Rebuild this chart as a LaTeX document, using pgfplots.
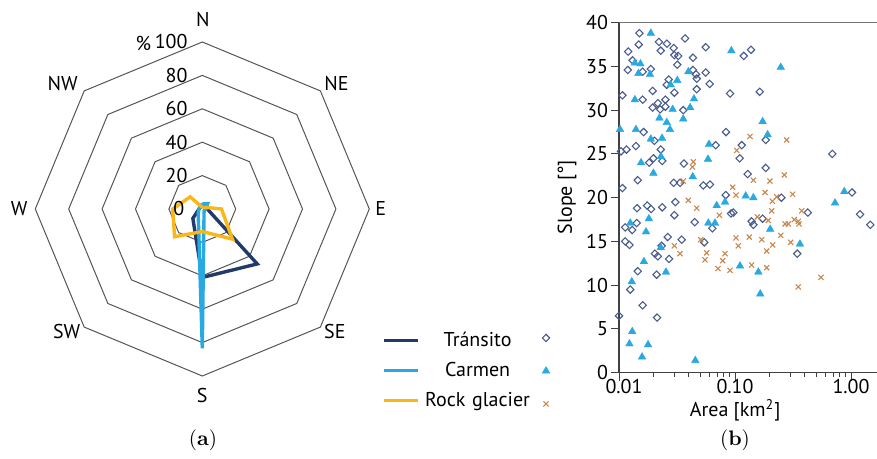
\documentclass[border=0pt]{standalone}
\usepackage{fontspec}
\setsansfont{PT Sans}
\usepackage{pgfplots}
\pgfplotsset{compat=1.18}
\definecolor{tnavy}{HTML}{1F3A6B}
\definecolor{cblue}{HTML}{29A9E1}
\definecolor{ryell}{HTML}{FBB617}
\definecolor{dmark}{HTML}{4A5C8C}
\definecolor{xmark}{HTML}{C9874E}
\definecolor{ringc}{HTML}{555555}

\pgfplotstableread{
x y
0.0150 38.8
0.0120 36.7
0.0148 37.5
0.0131 35.7
0.0119 34.6
0.0221 37.8
0.0229 36.8
0.0259 37.6
0.0296 37.1
0.0300 36.3
0.0324 36.2
0.0318 35.2
0.0371 38.2
0.0188 34.7
0.0160 34.4
0.0434 36.0
0.0434 34.6
0.0461 34.1
0.0468 33.6
0.0559 37.2
0.0559 34.3
0.0605 33.0
0.0468 32.4
0.0268 33.5
0.0258 32.9
0.0300 32.0
0.0195 32.2
0.0107 31.7
0.0160 31.2
0.0251 31.2
0.0216 30.8
0.0195 30.3
0.0226 30.1
0.0251 30.4
0.0358 30.0
0.0163 27.5
0.0202 26.5
0.0140 25.9
0.0116 25.5
0.0104 25.3
0.0229 25.5
0.0236 24.2
0.0198 24.5
0.0182 24.0
0.0363 23.9
0.0145 22.0
0.0107 21.1
0.0296 21.7
0.0336 21.7
0.0533 21.4
0.0608 21.5
0.1189 36.2
0.1374 36.9
0.0906 31.9
0.1633 32.1
0.0836 27.5
0.0682 26.0
0.1143 26.0
0.1097 24.5
0.184 26.6
0.69 25.0
0.184 23.4
0.1286 22.7
0.0832 20.3
0.251 20.0
1.02 20.6
0.0306 19.5
0.0143 18.8
0.0175 19.1
0.0189 18.7
0.0236 18.9
0.0300 18.0
0.0449 17.2
0.0113 16.6
0.0142 17.1
0.0130 16.3
0.0113 15.0
0.0123 14.6
0.0263 15.5
0.0347 15.2
0.0233 14.5
0.0204 13.6
0.0216 13.3
0.0270 13.0
0.0543 14.9
0.0637 16.5
0.0145 11.6
0.0211 11.2
0.0125 9.5
0.0160 7.7
0.0100 6.5
0.0213 6.3
0.0925 18.2
0.0967 18.3
0.424 18.3
0.173 17.6
0.139 17.3
0.144 16.9
0.344 13.6
1.197 18.1
1.466 16.9
}\transito

\pgfplotstableread{
x y
0.0188 38.8
0.0137 35.4
0.0153 35.3
0.0147 34.2
0.0185 34.1
0.0396 34.4
0.0318 33.4
0.0279 32.9
0.0137 31.2
0.0443 31.3
0.0223 29.1
0.0290 30.1
0.0410 30.3
0.0358 29.0
0.0258 28.6
0.0275 27.8
0.0102 27.8
0.0140 27.8
0.0235 26.8
0.0188 26.7
0.0597 26.1
0.0155 24.0
0.0230 24.7
0.0585 24.4
0.0198 22.8
0.0432 22.4
0.093 36.8
0.248 34.9
0.173 28.7
0.191 27.2
0.875 20.7
0.1236 20.2
0.144 20.0
0.0125 17.1
0.0181 17.6
0.0171 16.1
0.0229 14.3
0.0164 12.7
0.0254 11.5
0.0129 10.4
0.0130 4.7
0.0123 3.3
0.0178 3.2
0.0158 1.8
0.0455 1.4
0.0695 19.1
0.0589 17.1
0.0672 17.1
0.082 19.5
0.728 19.4
0.201 16.4
0.363 14.7
0.1104 12.2
0.159 11.5
0.165 9.0
1.70 12.5
}\carmen

\pgfplotstableread{
x y
0.0437 24.1
0.0429 23.5
0.0358 21.9
0.1346 27.0
0.1035 25.4
0.279 26.6
0.144 22.0
0.200 21.9
0.266 22.6
0.0955 21.2
0.1815 20.6
0.314 20.4
0.102 20.3
0.2286 20.1
0.0396 19.7
0.0468 18.8
0.030 14.5
0.0336 13.6
0.0506 15.2
0.057 13.7
0.0551 12.9
0.0713 11.9
0.0783 12.8
0.082 13.6
0.0906 11.7
0.0733 18.0
0.21 19.6
0.1557 17.8
0.207 18.5
0.1937 17.4
0.27 17.0
0.288 17.0
0.324 17.5
0.351 17.3
0.376 18.5
0.356 17.0
0.102 15.4
0.1067 14.5
0.1328 15.5
0.17 15.2
0.2113 14.6
0.1876 13.9
0.248 15.7
0.302 14.9
0.139 12.3
0.1876 12.0
0.551 10.9
0.351 9.8
}\rockglacier

\begin{document}
\begin{tikzpicture}[font=\sffamily\fontsize{10}{12}\selectfont]
\path[use as bounding box] (0,0) rectangle (438.5pt,229.5pt);

% ---------------- (a) radar chart ----------------
\begin{axis}[
  at={(101.15pt,125pt)}, anchor=center,
  scale only axis, width=167pt, height=167pt,
  xmin=-100, xmax=100, ymin=-100, ymax=100,
  hide axis, clip=false,
  legend cell align=center,
  legend style={at={(1.037,0.016)}, anchor=west, draw=none, fill=none,
    inner sep=0pt, row sep=0pt,
    nodes={inner sep=0pt, minimum height=15pt, text width=58pt, align=center,
      xshift=-4pt, font=\sffamily\fontsize{10}{12}\selectfont}},
]
\pgfplotsinvokeforeach{20,40,60,80,100}{
  \addplot[ringc, line width=0.5pt, forget plot, data cs=polar]
    coordinates {(90,#1)(45,#1)(0,#1)(-45,#1)(-90,#1)(-135,#1)(180,#1)(135,#1)(90,#1)(45,#1)};
}
\addplot[tnavy, line width=1.7pt, data cs=polar]
  coordinates {(90,2)(45,2)(0,3)(-45,46.5)(-90,41)(-135,8)(180,2)(135,1.5)(90,2)};
\addlegendentry{Tránsito}
\addplot[cblue, line width=1.7pt, data cs=polar]
  coordinates {(90,3)(45,4.5)(0,2)(-45,1.5)(-90,83.5)(-135,3.5)(180,2)(135,2)(90,3)};
\addlegendentry{Carmen}
\addplot[ryell, line width=1.7pt, data cs=polar]
  coordinates {(90,1)(45,1.5)(0,11.5)(-45,25.5)(-90,13.5)(-135,23.5)(180,17.7)(135,10.3)(90,1)};
\addlegendentry{Rock glacier}

\node at (axis cs:0.4,113.2) {N};
\node at (axis cs:80.4,74.9) {NE};
\node at (axis cs:106.9,0) {E};
\node at (axis cs:79.4,-73.1) {SE};
\node at (axis cs:0,-111.4) {S};
\node at (axis cs:-81.2,-73.1) {SW};
\node at (axis cs:-109.6,0.4) {W};
\node at (axis cs:-83.6,74.9) {NW};
\node[anchor=east, inner sep=0pt] at (axis cs:-10.5,0) {0};
\node[anchor=east, inner sep=0pt] at (axis cs:-8.6,20) {20};
\node[anchor=east, inner sep=0pt] at (axis cs:-8.6,40) {40};
\node[anchor=east, inner sep=0pt] at (axis cs:-8.6,60) {60};
\node[anchor=east, inner sep=0pt] at (axis cs:-8.6,80) {80};
\node[anchor=east, inner sep=0pt] at (axis cs:-8.6,100) {100};
\node at (axis cs:-35.3,99.2) {\%};
\end{axis}

% ---------------- (b) scatter plot ----------------
\begin{axis}[
  at={(309.5pt,43.15pt)}, anchor=south west,
  scale only axis, width=129pt, height=175pt,
  xmode=log, log basis x=10,
  xmin=0.01, xmax=1.675, ymin=0, ymax=40,
  axis x line*=bottom, axis y line*=left,
  axis line style={line width=0.6pt, draw=black!75, -},
  xtick={0.01,0.1,1}, xticklabels={\hspace{5pt}0.01,0.10,1.00},
  minor xtick={0.02,0.03,0.04,0.05,0.06,0.07,0.08,0.09,0.2,0.3,0.4,0.5,0.6,0.7,0.8,0.9},
  ytick={0,5,10,15,20,25,30,35,40},
  tick align=outside, major tick length=4pt, minor tick length=2.2pt,
  every tick/.style={black!75, line width=0.5pt},
  /pgf/number format/assume math mode=true,
  ticklabel style={font=\sffamily\fontsize{10}{12}\selectfont},
  xticklabel style={yshift=4.5pt},
  yticklabel style={xshift=2pt},
  xlabel={Area [km\textsuperscript{2}]},
  ylabel={Slope [°]},
  xlabel style={at={(axis description cs:0.45,-0.107)}, anchor=center},
  ylabel style={at={(axis description cs:-0.2016,0.502)}, anchor=center},
  legend style={at={(-0.279,0.005)}, anchor=center, draw=none, fill=none,
    inner sep=0pt, row sep=0pt,
    nodes={inner sep=0pt, minimum height=16.5pt}},
  legend image code/.code={\draw[#1, only marks] plot coordinates {(0pt,0pt)};},
]
\addplot[only marks, mark=square, mark size=1.3pt,
  mark options={rotate=45, draw=dmark, line width=0.55pt}] table[x=x,y=y] {\transito};
\addlegendentry{}
\addplot[only marks, mark=triangle*, mark size=2.2pt,
  mark options={fill=cblue, draw=cblue, line width=0.2pt}] table[x=x,y=y] {\carmen};
\addlegendentry{}
\addplot[only marks, mark=x, mark size=1.8pt,
  mark options={draw=xmark, line width=0.55pt}] table[x=x,y=y] {\rockglacier};
\addlegendentry{}
\draw[black!55, line width=0.5pt] (rel axis cs:0,1) -- (rel axis cs:1,1);
\end{axis}

\node at (101.5pt,9.5pt) {\rmfamily\fontsize{10.5}{12}\selectfont(\textbf{a})};
\node at (367.5pt,9.5pt) {\rmfamily\fontsize{10.5}{12}\selectfont(\textbf{b})};
\end{tikzpicture}
\end{document}
